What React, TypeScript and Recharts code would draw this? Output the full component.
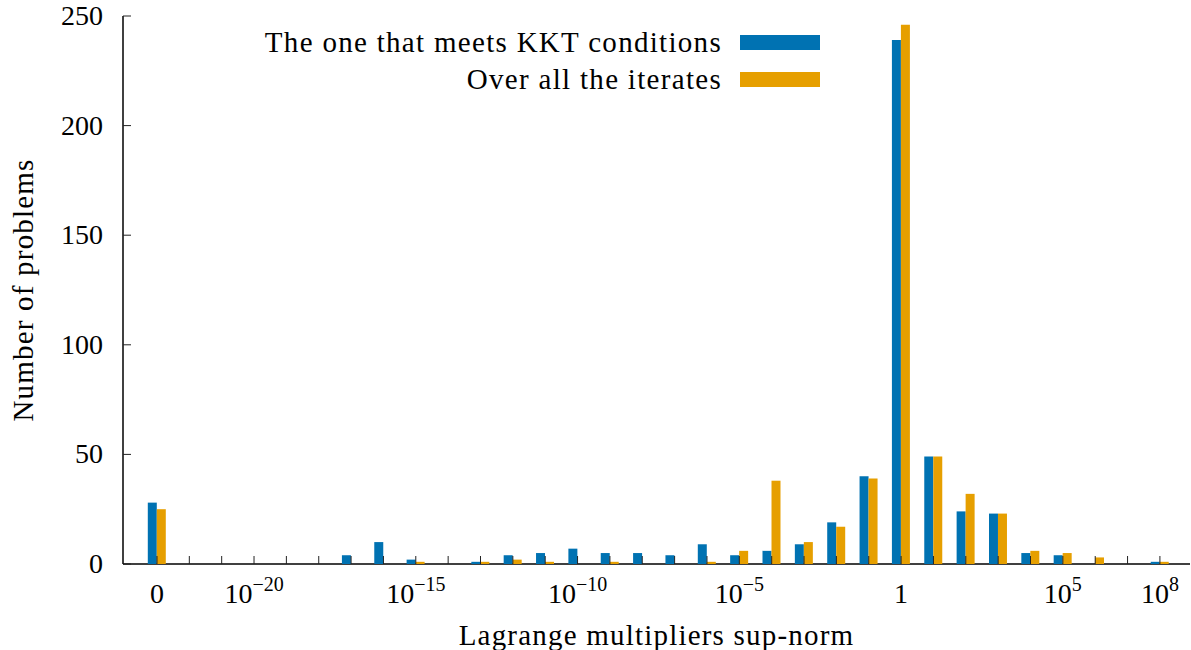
import { BarChart, Bar, XAxis, YAxis, Legend } from 'recharts'

// one bin per decade of the sup-norm; -23 stands for the exact-zero bin
const decades = [-23, -22, -21, -20, -19, -18, -17, -16, -15, -14, -13, -12, -11, -10, -9, -8, -7, -6, -5, -4, -3, -2, -1, 0, 1, 2, 3, 4, 5, 6, 7, 8]
const kktCounts = [28, 0, 0, 0, 0, 0, 4, 10, 2, 0, 1, 4, 5, 7, 5, 5, 4, 9, 4, 6, 9, 19, 40, 239, 49, 24, 23, 5, 4, 0, 0, 1]
const iterateCounts = [25, 0, 0, 0, 0, 0, 0, 0, 1, 0, 1, 2, 1, 0, 1, 0, 0, 1, 6, 38, 10, 17, 39, 246, 49, 32, 23, 6, 5, 3, 0, 1]

const seriesNames = ['The one that meets KKT conditions', 'Over all the iterates']
const yTicks = [0, 50, 100, 150, 200, 250]
// [mantissa, exponent] for the labelled decades
const xTickLabels: Record<number, [string, string]> = {
  [-23]: ['0', ''],
  [-20]: ['10', '−20'],
  [-15]: ['10', '−15'],
  [-10]: ['10', '−10'],
  [-5]: ['10', '−5'],
  [0]: ['1', ''],
  [5]: ['10', '5'],
  [8]: ['10', '8'],
}

const BLUE = '#0072b2'
const ORANGE = '#e69f00'
const FONT = '"Liberation Serif", "Times New Roman", serif'
const TICK = 8

const data = decades.map((d, i) => ({ decade: d, kkt: kktCounts[i], iterates: iterateCounts[i] }))

function BottomTick({ x, y, payload }: any) {
  const lab = xTickLabels[payload.value]
  return (
    <g>
      <line x1={x} y1={y} x2={x} y2={y - TICK} stroke="#222" />
      {lab && (
        <text x={x} y={y + 39} textAnchor="middle" fontFamily={FONT} fontSize={28} fill="#000">
          {lab[0]}
          {lab[1] && <tspan dy={-12} fontSize={20}>{lab[1]}</tspan>}
        </text>
      )}
    </g>
  )
}

function TopTick({ x, y }: any) {
  return <line x1={x} y1={y} x2={x} y2={y + TICK} stroke="#222" />
}

function LeftTick({ x, y, payload }: any) {
  return (
    <g>
      <line x1={x} y1={y} x2={x + TICK} y2={y} stroke="#222" />
      <text x={x - 20} y={y + 9} textAnchor="end" fontFamily={FONT} fontSize={28} fill="#000">
        {payload.value}
      </text>
    </g>
  )
}

function RightTick({ x, y }: any) {
  return <line x1={x} y1={y} x2={x - TICK} y2={y} stroke="#222" />
}

function YTitle({ viewBox }: any) {
  const cx = viewBox.x + 33
  const cy = viewBox.y + viewBox.height / 2
  return (
    <text x={cx} y={cy} transform={`rotate(-90, ${cx}, ${cy})`} textAnchor="middle" fontFamily={FONT} fontSize={29} letterSpacing={1.2} fill="#000">
      Number of problems
    </text>
  )
}

function XTitle({ viewBox }: any) {
  return (
    <text x={viewBox.x + viewBox.width / 2} y={viewBox.y + 81} textAnchor="middle" fontFamily={FONT} fontSize={29} letterSpacing={1.2} fill="#000">
      Lagrange multipliers sup-norm
    </text>
  )
}

function KeyBox({ payload }: any) {
  const items = [...(payload || [])].sort((a: any, b: any) => seriesNames.indexOf(a.value) - seriesNames.indexOf(b.value))
  return (
    <div style={{ width: 820, fontFamily: FONT, fontSize: 29, letterSpacing: 1.3 }}>
      {items.map((p: any) => (
        <div key={p.value} style={{ display: 'flex', justifyContent: 'flex-end', alignItems: 'center', height: 37 }}>
          <span>{p.value}</span>
          <span style={{ display: 'inline-block', width: 80, height: 15, background: p.color, marginLeft: 18 }} />
        </div>
      ))}
    </div>
  )
}

export default function App() {
  const axisLine = { stroke: '#000', strokeWidth: 1.5 }
  return (
    <div style={{ position: 'absolute', left: 0, top: 0, background: '#fff' }}>
      <BarChart width={1191} height={650} data={data} margin={{ top: 16, right: 1, bottom: 0, left: 0 }} barGap={0}>
        <XAxis
          dataKey="decade"
          type="number"
          domain={[-24.05, 8.93]}
          allowDataOverflow
          ticks={decades}
          interval={0}
          height={86}
          tickSize={0}
          tickMargin={0}
          tickLine={false}
          axisLine={axisLine}
          tick={<BottomTick />}
          label={<XTitle />}
        />
        <XAxis
          xAxisId="top"
          orientation="top"
          dataKey="decade"
          type="number"
          domain={[-24.05, 8.93]}
          allowDataOverflow
          ticks={decades}
          interval={0}
          height={0}
          tickSize={0}
          tickMargin={0}
          tickLine={false}
          axisLine={axisLine}
          tick={<TopTick />}
        />
        <YAxis
          domain={[0, 250]}
          ticks={yTicks}
          interval={0}
          width={123}
          tickSize={0}
          tickMargin={0}
          tickLine={false}
          axisLine={axisLine}
          tick={<LeftTick />}
          label={<YTitle />}
        />
        <YAxis
          yAxisId="right"
          orientation="right"
          domain={[0, 250]}
          ticks={yTicks}
          interval={0}
          width={0}
          tickSize={0}
          tickMargin={0}
          tickLine={false}
          axisLine={axisLine}
          tick={<RightTick />}
        />
        <Legend
          layout="vertical"
          align="center"
          verticalAlign="middle"
          wrapperStyle={{ top: 24, left: 0, width: 820 }}
          content={<KeyBox />}
        />
        {/* bars sit above the inward tick marks */}
        <Bar dataKey="kkt" name={seriesNames[0]} fill={BLUE} barSize={9} zIndex={600} isAnimationActive={false} />
        <Bar dataKey="iterates" name={seriesNames[1]} fill={ORANGE} barSize={9} zIndex={600} isAnimationActive={false} />
      </BarChart>
    </div>
  )
}
